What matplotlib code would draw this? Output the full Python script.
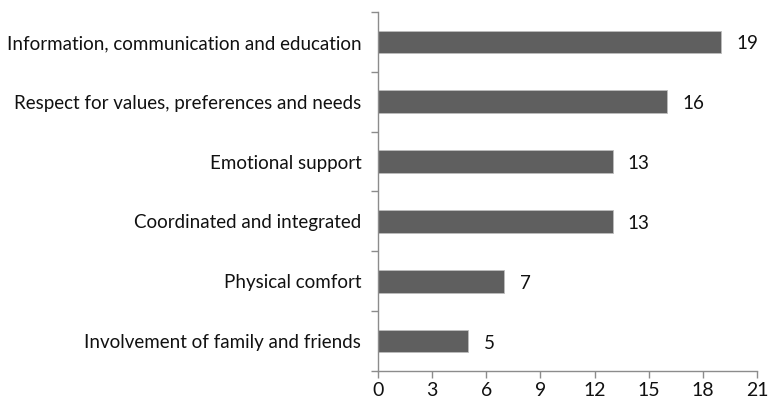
import matplotlib
matplotlib.use("Agg")
import matplotlib.pyplot as plt
import numpy as np

categories = [
    "Information, communication and education",
    "Respect for values, preferences and needs",
    "Emotional support",
    "Coordinated and integrated",
    "Physical comfort",
    "Involvement of family and friends",
]
counts = [19, 16, 13, 13, 7, 5]
x_ticks = [0, 3, 6, 9, 12, 15, 18, 21]

plt.rcParams["font.family"] = ["Lato", "DejaVu Sans"]
axis_color = "#8c8c8c"

fig = plt.figure(figsize=(7.69, 4.04), dpi=100)
ax = fig.add_axes([0.4915, 0.0817, 0.4929, 0.8886])

pos = np.arange(len(categories))[::-1]
ax.barh(pos, counts, height=0.38, color="#5f5f5f", edgecolor="#bdbdbd", linewidth=0.6)
for y, v in zip(pos, counts):
    ax.annotate(str(v), (v, y), xytext=(11, -1.5), textcoords="offset points",
                va="center", ha="left", fontsize=13.5, color="#111111")

ax.set_xlim(0, 21)
ax.set_ylim(-0.5, len(categories) - 0.5)
ax.set_xticks(x_ticks)
ax.tick_params(axis="x", direction="out", length=5, width=1, color=axis_color,
               labelsize=14, pad=3, labelcolor="#111111")

ax.set_yticks(np.arange(len(categories) + 1) - 0.5)
ax.set_yticklabels([])
ax.tick_params(axis="y", which="major", direction="out", length=5, width=1, color=axis_color)
ax.set_yticks(pos, minor=True)
ax.set_yticklabels(categories, minor=True)
ax.tick_params(axis="y", which="minor", length=0, pad=12, labelsize=13.5, labelcolor="#111111")

for side in ["top", "right"]:
    ax.spines[side].set_visible(False)
for side in ["left", "bottom"]:
    ax.spines[side].set_color(axis_color)
    ax.spines[side].set_linewidth(1)

fig.savefig("out.png", dpi=100)
